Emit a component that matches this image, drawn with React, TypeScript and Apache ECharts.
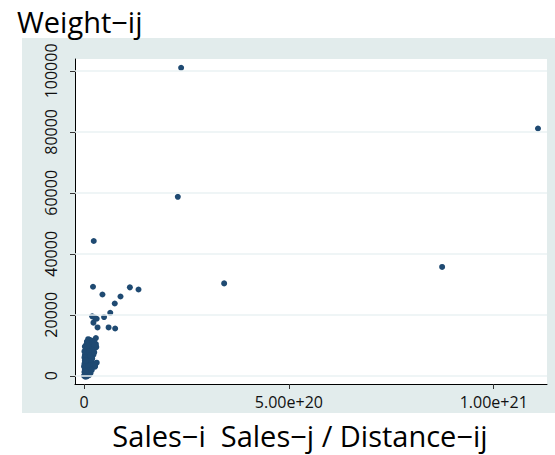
import React, { useEffect, useRef } from "react";
import * as echarts from "echarts";

// x values are in units of 1e20
const xTickValues = [0, 5, 10];
const xTickLabels = ["0", "5.00e+20", "1.00e+21"];
const yTickValues = [0, 20000, 40000, 60000, 80000, 100000];

const outlierX = [2.37, 2.29, 11.08, 8.74, 3.42, 0.237, 0.22, 0.45, 0.75, 0.89, 1.12, 1.33, 0.64, 0.2, 0.26, 0.31, 0.49, 0.23, 0.33, 0.6, 0.76, 0.29, 0.29];
const outlierY = [101000, 58700, 81100, 35700, 30300, 44200, 29200, 26650, 23700, 26000, 29000, 28300, 20650, 19500, 19100, 18700, 19250, 17400, 15850, 15850, 15500, 12350, 10400];

const clusterX = [
  0.10, 0.14, 0.20, 0.07, 0.17, 0.25, 0.12, 0.22, 0.05, 0.16, 0.28, 0.09, 0.19, 0.13, 0.24,
  0.04, 0.08, 0.15, 0.21, 0.03, 0.11, 0.18, 0.06, 0.14, 0.23, 0.02, 0.09, 0.16, 0.05, 0.12, 0.20, 0.03, 0.08, 0.14,
  0.02, 0.06, 0.11, 0.17, 0.23, 0.01, 0.05, 0.09, 0.14, 0.20, 0.27, 0.03, 0.07, 0.12, 0.18, 0.02,
  0.05, 0.10, 0.15, 0.01, 0.04, 0.08, 0.12, 0.02, 0.06, 0.10, 0.00, 0.03, 0.07, 0.13, 0.16,
  0.01, 0.00, 0.01, 0.02, 0.07, 0.12, 0.18, 0.10, 0.13, 0.05, 0.15, 0.09, 0.04, 0.19, 0.25, 0.30, 0.26, 0.31, 0.27,
];
const clusterY = [
  12000, 11800, 11500, 11200, 11000, 10900, 10600, 10300, 10100, 9900, 9800, 9500, 9300, 9000, 8800,
  8700, 8400, 8200, 8000, 7800, 7600, 7400, 7200, 7000, 6900, 6700, 6500, 6300, 6100, 5900, 5700, 5500, 5300, 5100,
  4900, 4700, 4500, 4300, 4100, 3900, 3700, 3500, 3300, 3100, 3000, 2800, 2600, 2400, 2200, 2000,
  1800, 1600, 1400, 1200, 1000, 800, 600, 400, 200, 100, 0, -300, -200, 300, 900,
  6000, 3000, 8000, 9600, 10800, 7900, 5400, 3100, 1900, 5000, 6600, 9900, 1500, 1900, 7700, 9400, 10100, 4300, 3300,
];

const FONT = "'Open Sans', 'DejaVu Sans', sans-serif";

export default function App() {
  const ref = useRef<HTMLDivElement>(null);
  useEffect(() => {
    document.body.style.margin = "0";
    const chart = echarts.init(ref.current!, undefined, { renderer: "svg" });
    const data: number[][] = [];
    outlierX.forEach((x, i) => data.push([x, outlierY[i]]));
    clusterX.forEach((x, i) => data.push([x, clusterY[i]]));
    chart.setOption({
      animation: false,
      backgroundColor: "#ffffff",
      textStyle: { fontFamily: FONT },
      grid: { left: 75, top: 59, width: 472, height: 325, containLabel: false },
      graphic: [
        { type: "rect", z: -10, shape: { x: 22, y: 38, width: 533, height: 375 }, style: { fill: "#E2ECEC" } },
        { type: "rect", z: -9, shape: { x: 75, y: 59, width: 472, height: 325 }, style: { fill: "#ffffff" } },
        {
          type: "text", x: 17, y: 21,
          style: { text: "Weight\u2212ij", font: `29px ${FONT}`, fill: "#000", textVerticalAlign: "middle" },
        },
        {
          type: "text", x: 300, y: 435,
          style: { text: "Sales\u2212i  Sales\u2212j / Distance\u2212ij", font: `29px ${FONT}`, fill: "#000", textAlign: "center", textVerticalAlign: "middle" },
        },
      ],
      xAxis: {
        type: "value",
        min: -0.22,
        max: 11.3,
        axisLine: { show: true, onZero: false, lineStyle: { color: "#000", width: 1 } },
        axisTick: { show: true, customValues: xTickValues, length: 5, lineStyle: { color: "#333" } },
        axisLabel: {
          customValues: xTickValues,
          formatter: (v: number) => xTickLabels[xTickValues.indexOf(v)] ?? "",
          fontSize: 16, color: "#111", margin: 10, fontFamily: FONT,
        },
        splitLine: { show: false },
      },
      yAxis: {
        type: "value",
        min: -2700,
        max: 103900,
        axisLine: { show: true, onZero: false, lineStyle: { color: "#000", width: 1 } },
        axisTick: { show: true, customValues: yTickValues, length: 5, lineStyle: { color: "#333" } },
        axisLabel: {
          customValues: yTickValues,
          formatter: (v: number) => String(v),
          rotate: 90,
          fontSize: 16, color: "#111", margin: 16, fontFamily: FONT,
        },
        splitLine: { show: false },
      },
      series: [
        {
          type: "line",
          data: [],
          z: 1,
          silent: true,
          markLine: {
            silent: true,
            symbol: ["none", "none"],
            label: { show: false },
            lineStyle: { color: "#EAF2F3", width: 1.5, type: "solid" },
            data: yTickValues.map((v) => ({ yAxis: v })),
          },
        },
        {
          type: "scatter",
          z: 3,
          symbolSize: 6,
          itemStyle: { color: "#1F4A72", opacity: 1 },
          data,
        },
      ],
    });
    return () => chart.dispose();
  }, []);
  return <div ref={ref} style={{ width: 555, height: 455 }} />;
}
